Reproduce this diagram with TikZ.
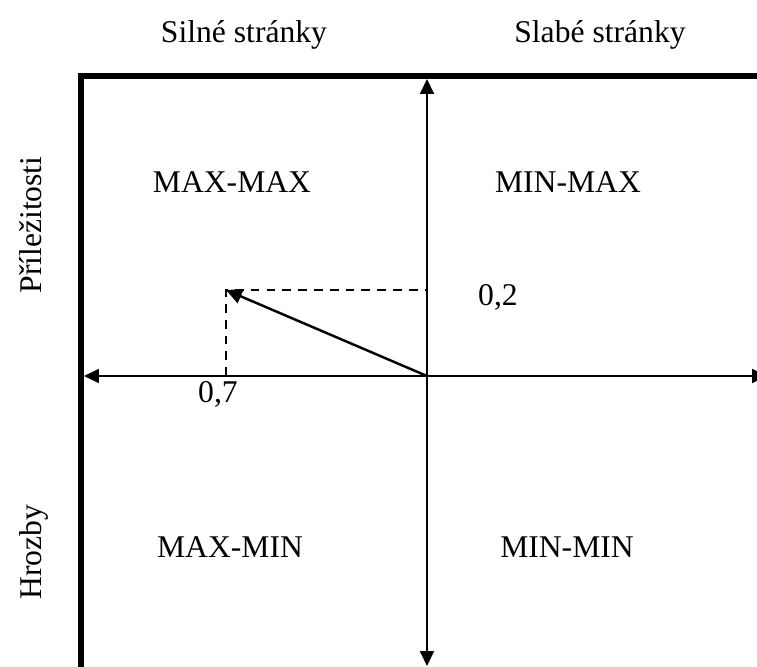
\documentclass[tikz,border=0pt]{standalone}
\usepackage{fontspec}
\setmainfont{Liberation Serif}
\usetikzlibrary{arrows.meta}
\tikzset{
	frame/.style={line width=3.4pt, line join=miter},
	axis/.style={line width=1.1pt, {Triangle[length=0.3cm, width=0.28cm]}-{Triangle[length=0.3cm, width=0.28cm]}},
	guide/.style={line width=0.8pt, dash pattern=on 5pt off 4pt},
	lbl/.style={anchor=base, inner sep=0pt}
}
\begin{document}
\begin{tikzpicture}[x=0.02cm, y=-0.02cm, font=\fontsize{18}{22}\selectfont]
	\useasboundingbox (0,0) rectangle (757,666);
	% frame
	\coordinate (corner) at (81,76);
	\coordinate (fb) at (81,700);
	\coordinate (fr) at (800,76);
	\draw[frame] (fb) -- (corner) -- (fr);
	% axes
	\coordinate (O) at (427,376);
	\coordinate (top) at (427,79);
	\coordinate (bottom) at (427,666);
	\coordinate (left) at (84,376);
	\coordinate (right) at (767,376);
	\draw[axis] (bottom) -- (top);
	\draw[axis] (left) -- (right);
	% vector
	\coordinate (V) at (226,290);
	\coordinate (Vx) at (226,376);
	\coordinate (Vy) at (427,290);
	\draw[guide] (Vx) -- (V) -- (Vy);
	\draw[line width=1.4pt, -{Triangle[length=0.32cm, width=0.3cm]}] (O) -- (V);
	% labels
	\node[lbl] (silne) at (244,42) {Silné stránky};
	\node[lbl] (slabe) at (600,42) {Slabé stránky};
	\node[lbl] (maxmax) at (232,192) {MAX-MAX};
	\node[lbl] (minmax) at (568,192) {MIN-MAX};
	\node[lbl] (maxmin) at (230,557) {MAX-MIN};
	\node[lbl] (minmin) at (567,557) {MIN-MIN};
	\node[lbl] (val2) at (498,305) {0,2};
	\node[lbl] (val7) at (218,402) {0,7};
	\node[lbl, rotate=90] (prilez) at (41,225) {Příležitosti};
	\node[lbl, rotate=90] (hrozby) at (41,552) {Hrozby};
\end{tikzpicture}
\end{document}
